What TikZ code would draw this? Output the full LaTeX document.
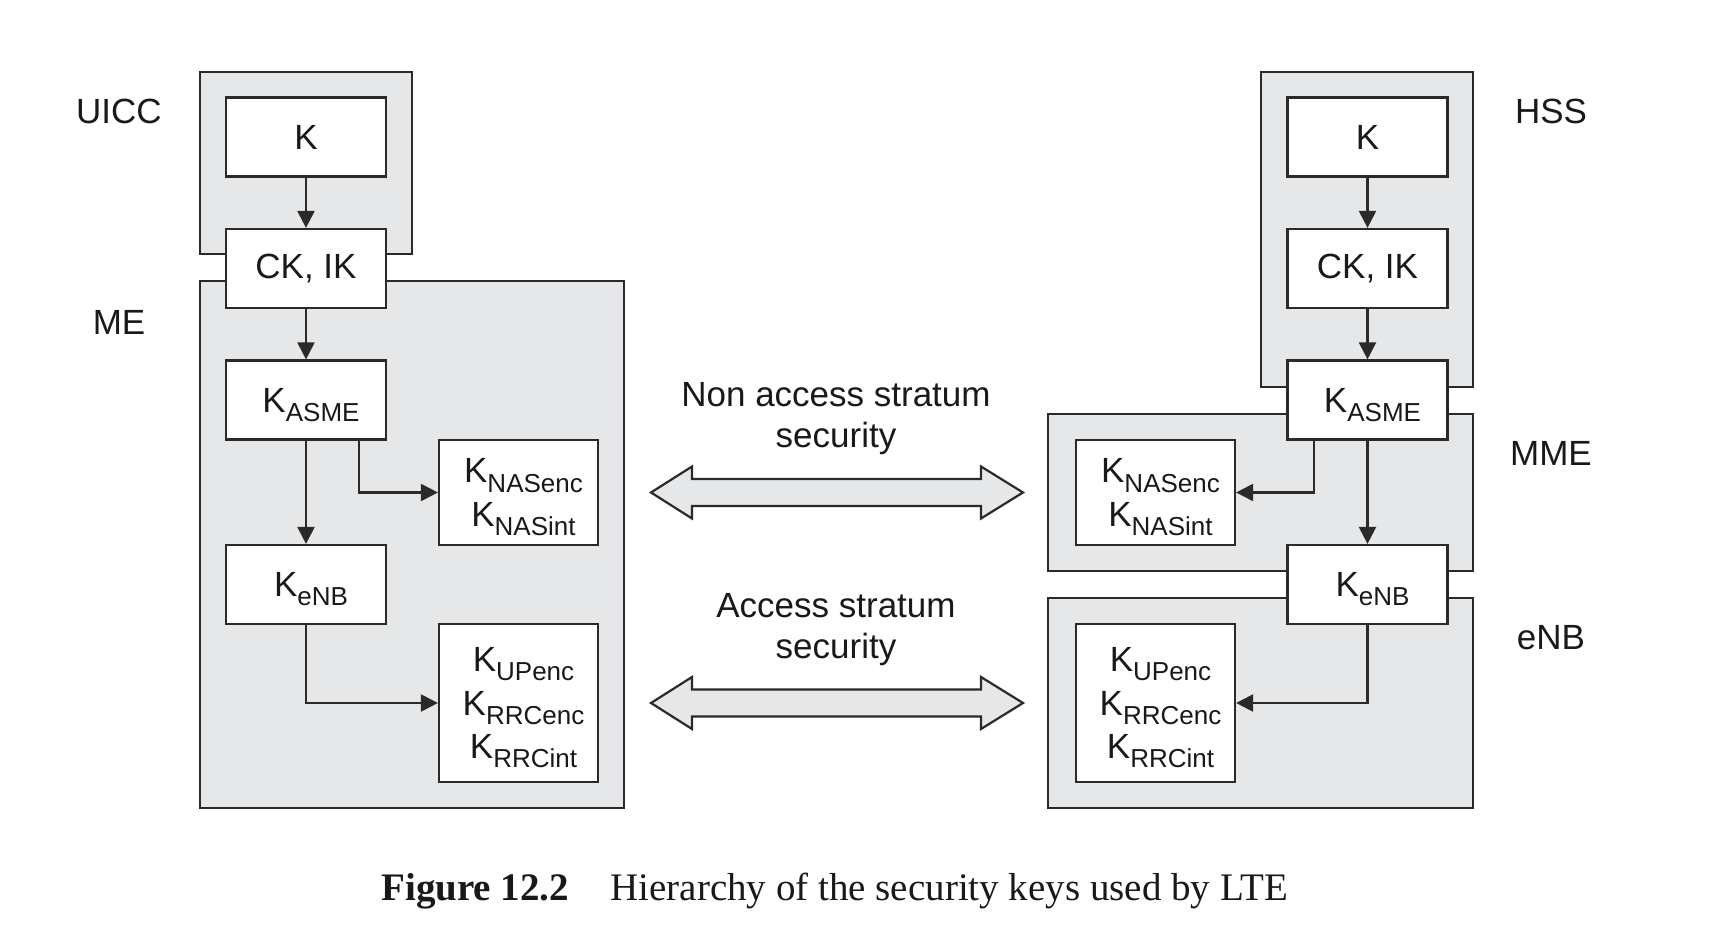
\documentclass[tikz,border=0pt]{standalone}
\usepackage{fontspec}
\setmainfont{Liberation Sans}
\newfontfamily\capfont{Liberation Serif}
\usetikzlibrary{arrows.meta,calc}
\definecolor{boxgray}{HTML}{E6E7E9}
\definecolor{linec}{HTML}{2A2A2A}
\newcommand\Ks[1]{\hspace*{5pt}K\smash{\raisebox{-4.6pt}{\fontsize{13}{13}\selectfont #1}}}
\begin{document}
\begin{tikzpicture}[x=0.5pt,y=-0.5pt,
  container/.style={draw=linec,fill=boxgray,line width=1.1pt},
  keybox/.style={draw=linec,fill=white,line width=1.1pt,minimum width=80pt,minimum height=39.5pt,inner sep=0pt,align=center,font=\fontsize{17.5}{21.7}\selectfont,text=black!90},
  lbl/.style={font=\fontsize{17.5}{20.5}\selectfont,align=center,inner sep=0pt,text=black!90},
  arr/.style={draw=linec,line width=1.1pt,-{Triangle[length=8.5pt,width=8.5pt]}},
  dbl/.style={draw=linec,fill=boxgray,line width=1.1pt,line join=miter}]
\useasboundingbox (0,0) rectangle (1730,930);
% containers
\draw[container] (200,72) rectangle (412,254);
\draw[container] (200,281) rectangle (624,808);
\draw[container] (1261,72) rectangle (1473,387);
\draw[container] (1048,414) rectangle (1473,571);
\draw[container] (1048,598) rectangle (1473,808);
% labels
\node[lbl] (uicc) at (119,111) {UICC};
\node[lbl] (me) at (119,322) {ME};
\node[lbl] (hss) at (1551,111) {HSS};
\node[lbl] (mme) at (1551,453) {MME};
\node[lbl] (enb) at (1551,638) {eNB};
% left key boxes
\node[keybox] (kL) at (306,137) {K};
\node[keybox] (ckL) at (306,268.5) {CK, IK};
\node[keybox] (kasmeL) at (306,400) {\Ks{ASME}};
\node[keybox] (kenbL) at (306,584.5) {\Ks{eNB}};
\node[keybox,minimum width=79.5pt,minimum height=52.5pt] (knasL) at (518.5,492.5) {\Ks{NASenc}\\\Ks{NASint}};
\node[keybox,minimum width=79.5pt,minimum height=79pt] (kupL) at (518.5,703) {\Ks{UPenc}\\\Ks{RRCenc}\\\Ks{RRCint}};
% right key boxes
\node[keybox] (kR) at (1367.5,137) {K};
\node[keybox] (ckR) at (1367.5,268.5) {CK, IK};
\node[keybox] (kasmeR) at (1367.5,400) {\Ks{ASME}};
\node[keybox] (kenbR) at (1367.5,584.5) {\Ks{eNB}};
\node[keybox,minimum width=79.5pt,minimum height=52.5pt] (knasR) at (1155.5,492.5) {\Ks{NASenc}\\\Ks{NASint}};
\node[keybox,minimum width=79.5pt,minimum height=79pt] (kupR) at (1155.5,703) {\Ks{UPenc}\\\Ks{RRCenc}\\\Ks{RRCint}};
% connectors left
\draw[arr] (kL) -- (ckL);
\draw[arr] (ckL) -- (kasmeL);
\draw[arr] (kasmeL) -- (kenbL);
\draw[arr] ([xshift=26.5pt]kasmeL.south) |- (knasL);
\draw[arr] (kenbL.south) |- (kupL);
% connectors right
\draw[arr] (kR) -- (ckR);
\draw[arr] (ckR) -- (kasmeR);
\draw[arr] (kasmeR) -- (kenbR);
\draw[arr] ([xshift=-26.75pt]kasmeR.south) |- (knasR);
\draw[arr] (kenbR.south) |- (kupR);
% security texts
\node[lbl] (nas) at (836,418.5) {Non access stratum\\security};
\node[lbl] (as) at (836,629.5) {Access stratum\\security};
% double arrows
\draw[dbl] (651,492.5) -- (692,466.5) -- (692,479) -- (981,479) -- (981,466.5) -- (1023,492.5) -- (981,518.5) -- (981,506) -- (692,506) -- (692,518.5) -- cycle;
\draw[dbl] (651,703) -- (692,677) -- (692,689.5) -- (981,689.5) -- (981,677) -- (1023,703) -- (981,729) -- (981,716.5) -- (692,716.5) -- (692,729) -- cycle;
% caption
\node[anchor=base west,inner sep=0pt,text=black!90] (capA) at (381,900) {\capfont\fontsize{19.5}{24}\selectfont\bfseries Figure 12.2};
\node[anchor=base west,inner sep=0pt,text=black!90] (capB) at (610,900) {\capfont\fontsize{19.5}{24}\selectfont Hierarchy of the security keys used by LTE};
\end{tikzpicture}
\end{document}
